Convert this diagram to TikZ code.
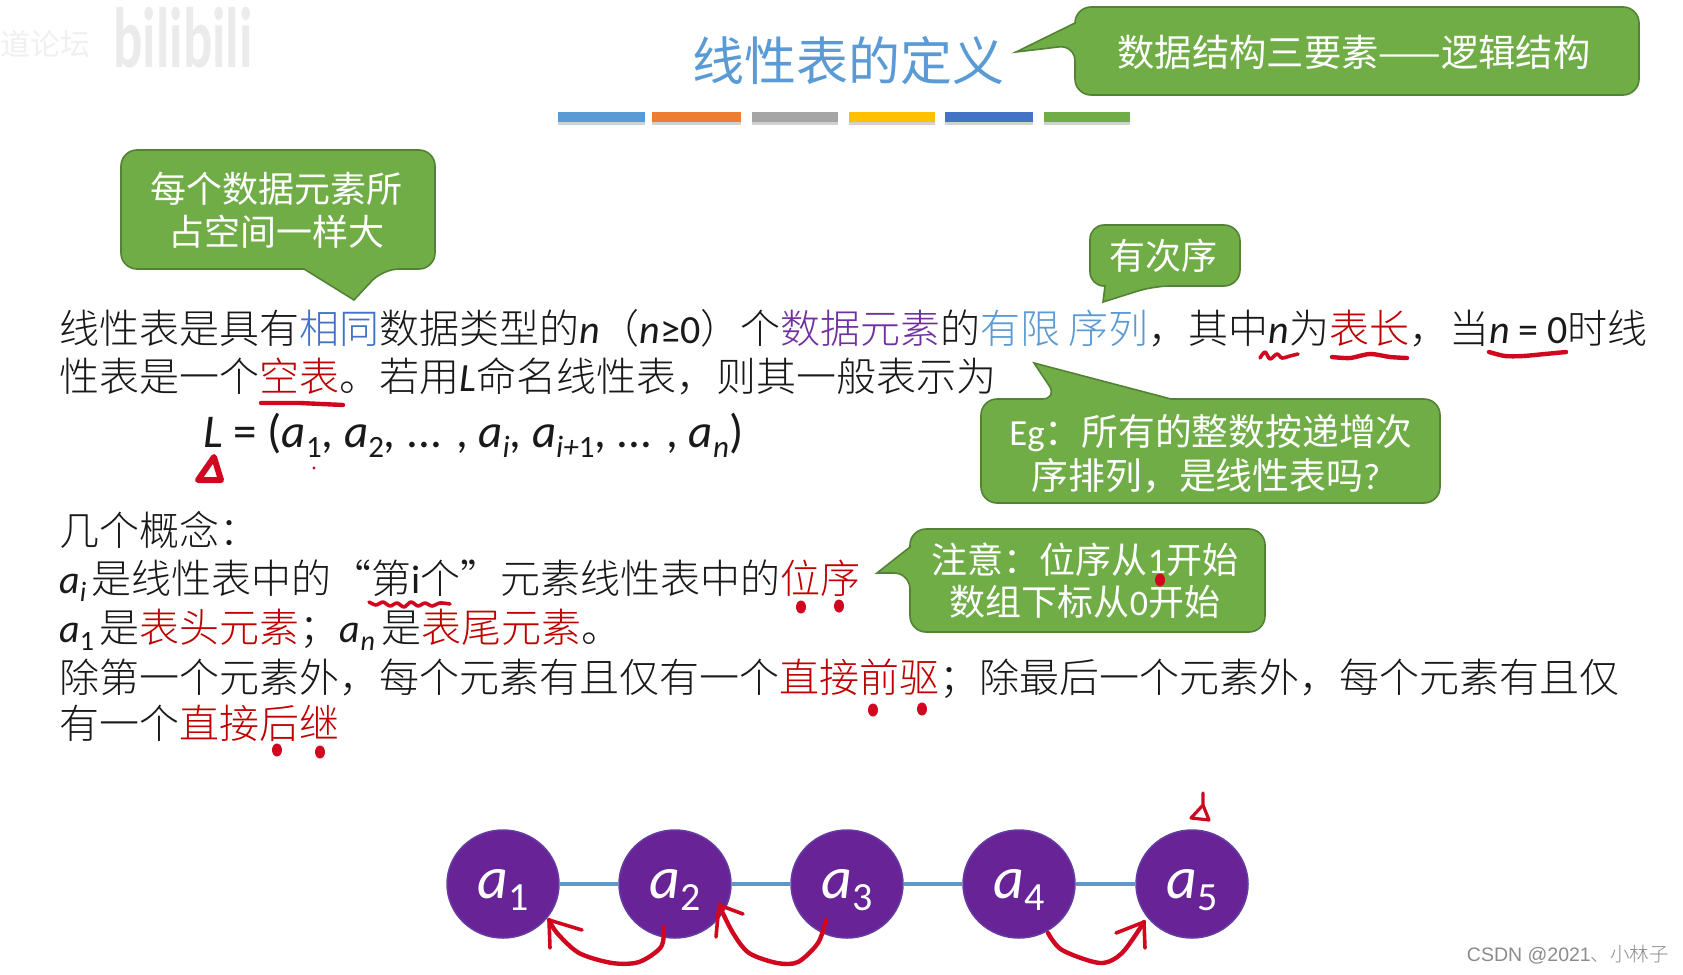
\documentclass[tikz,border=0pt]{standalone}
\usepackage{fontspec}
\usepackage{graphicx}
\setmainfont{Carlito}
\newfontfamily\cjk{Noto Sans CJK SC Light}
\newfontfamily\cjkr{Noto Sans CJK SC}
\newfontfamily\lib{Liberation Sans}
\usetikzlibrary{shapes.geometric}
\definecolor{gr}{HTML}{70AD47}
\definecolor{grd}{HTML}{548235}
\definecolor{redt}{HTML}{C00000}
\definecolor{ink}{HTML}{D0071E}
\definecolor{purp}{HTML}{7030A0}
\definecolor{circ}{HTML}{682496}
\definecolor{bl}{HTML}{4472C4}
\definecolor{lb}{HTML}{5B9BD5}
\newcommand\C[1]{{\cjk #1}}
\newcommand\fs[1]{\fontsize{#1}{#1}\selectfont}
\newcommand\lo[2]{\raisebox{-.22em}{\fs{#1}#2}}
\newcommand\loi[2]{\raisebox{-.22em}{\fs{#1}\itshape #2}}
\tikzset{
 x=1pt,y=-1pt,
 bub/.style={draw=grd,fill=gr,line width=1.6pt,rounded corners=16pt},
 btx/.style={text=white,inner sep=0,align=center,font=\fs{36}\cjkr},
 txt/.style={anchor=base west,inner sep=0,text=black!90,font=\fs{40}},
 ink1/.style={draw=ink,line width=4.4pt,line cap=round,line join=round},
 elem/.style={ellipse,draw=circ!80!lb,fill=circ,line width=1.5pt,minimum width=112pt,minimum height=108pt,inner sep=0,text=white,font=\fs{60}\itshape},
 link/.style={draw=lb!85!gray,line width=3.5pt},
}
\begin{document}
\begin{tikzpicture}
\useasboundingbox[fill=white] (0,0) rectangle (1683,974);
% watermark
\node[anchor=west,inner sep=0,text=black!6,font=\fs{30}\cjkr] (wm1) at (0,44) {道论坛};
\node[anchor=west,inner sep=0,text=black!8,font=\fs{66}\bfseries] (wm2) at (113,38) {\scalebox{.83}[1.3]{bilibili}};
% title
\node[inner sep=0,text=lb,font=\fs{52}\cjkr] (title) at (848,61) {线性表的定义};
% bars
\foreach \n/\a/\b/\c in {b1/558/645/5B9BD5,b2/652/741/ED7D31,b3/752/838/A5A5A5,b4/849/935/FFC000,b5/945/1033/4472C4,b6/1044/1130/70AD47}{
 \definecolor{tmp}{HTML}{\c}
 \fill[black!18] (\a,118) rectangle (\b,125);
 \fill[tmp] (\a,112) rectangle (\b,122);
}
% bubbles
\draw[bub] (1075,7) -- (1639,7) -- (1639,95) -- (1075,95) -- (1075,45) [sharp corners] -- (1016,52) -- (1075,23) [rounded corners=16pt] -- cycle;
\node[btx,font=\fs{37.3}\cjkr] (b1t) at (1354,52) {数据结构三要素——逻辑结构};
\draw[bub] (121,150) -- (435,150) -- (435,269) -- (383,269) [sharp corners] -- (354,300) -- (304,269) [rounded corners=16pt] -- (121,269) -- cycle;
\node[btx] (b2t) at (276,210) {每个数据元素所\\[7pt]占空间一样大};
\draw[bub] (1090,225) -- (1240,225) -- (1240,286) -- (1154,286) [sharp corners] -- (1103,302) -- (1105,286) [rounded corners=14pt] -- (1090,286) -- cycle;
\node[btx] (b3t) at (1163,256) {有次序};
\draw[bub] (981,399) -- (1058,399) [sharp corners] -- (1034,363) -- (1171,399) [rounded corners=16pt] -- (1440,399) -- (1440,503) -- (981,503) -- cycle;
\node[btx,font=\fs{36.8}\cjkr] (b4t) at (1211,454) {\textnormal{\fs{36.8}Eg}：所有的整数按递增次\\[6pt]序排列，是线性表吗\textnormal{\fs{36.8}?}\kern10pt};
\draw[bub] (910,529) -- (1265,529) -- (1265,632) -- (910,632) -- (910,573) [sharp corners] -- (877,573) -- (910,547) [rounded corners=16pt] -- cycle;
\node[btx] (b5t) at (1085,581) {注意：位序从\textnormal{\fs{36}1}开始\\[6pt]数组下标从\textnormal{\fs{36}0}开始};
% body
\node[txt] (l1) at (59,343) {\C{线性表是具有\textcolor{bl}{相同}数据类型的}\textit{n}\C{（}\textit{n}≥0\C{）个\textcolor{purp}{数据元素}的\textcolor{lb}{有限}}\kern8pt\C{\textcolor{lb}{序列}，其中}\textit{n}\C{为\textcolor{redt}{表长}，当}\textit{n} = 0\C{时线}};
\node[txt] (l2) at (59,391) {\C{性表是一个\textcolor{redt}{空表}。若用}\textit{L}\C{命名线性表，则其一般表示为}};
\node[txt,font=\fs{47}] (fm) at (203,447) {\textit{L} = (\textit{a}\lo{31}{1}, \textit{a}\lo{31}{2}, ... , \textit{a}\loi{31}{i}, \textit{a}\loi{31}{i+}\lo{31}{1}, ... , \textit{a}\loi{31}{n})};
\node[txt] (l3) at (59,545) {\C{几个概念：}};
\node[txt] (l4) at (59,593) {\textit{a}\loi{28}{i}\kern5pt\C{是线性表中的“第}i\C{个”元素线性表中的\textcolor{redt}{位序}}};
\node[txt] (l5) at (59,642) {\textit{a}\lo{28}{1}\kern6pt\C{是\textcolor{redt}{表头元素}；}\textit{a}\loi{28}{n}\,\C{是\textcolor{redt}{表尾元素}。}};
\node[txt] (l6) at (59,692) {\C{除第一个元素外，每个元素有且仅有一个\textcolor{redt}{直接前驱}；除最后一个元素外，每个元素有且仅}};
\node[txt] (l7) at (59,738) {\C{有一个\textcolor{redt}{直接后继}}};
% chain
\foreach \n/\x/\s in {e1/503/1,e2/675/2,e3/847/3,e4/1019/4,e5/1192/5}{
 \node[elem] (\n) at (\x,884) {\raisebox{-14pt}[0pt][0pt]{\textit{a}\raisebox{-.2em}{\fs{40}\upshape\s}}};
}
\draw[link] (e1) -- (e2); \draw[link] (e2) -- (e3); \draw[link] (e3) -- (e4); \draw[link] (e4) -- (e5);
% red ink
\draw[ink1] plot[smooth] coordinates {(664,927)(661,947)(639,962)(612,963)(579,953)(557,933)(549,920)};
\draw[ink1,line width=3.6pt] (550,948)--(549,920)--(582,930);
\draw[ink1] plot[smooth] coordinates {(826,920)(818,943)(798,962)(777,963)(749,953)(733,933)(719,905)};
\draw[ink1,line width=3.6pt] (716,937)--(719,905)--(743,914);
\draw[ink1] plot[smooth] coordinates {(1048,933)(1062,950)(1100,963)(1122,953)(1144,922)};
\draw[ink1,line width=3.6pt] (1116,933)--(1144,922)--(1145,948);
\draw[ink1,line width=3.2pt] (1203,793)--(1203,805)--(1191,818)--(1209,820)--(1203,805);
\draw[ink1,line width=6pt] (214,457)--(198,480)--(221,480)--cycle;
\fill[ink] (314,468) circle (1.6);
\draw[ink1] (261,403)--(300,403)--(343,405);
\draw[ink1,line width=3.6pt] plot[smooth] coordinates {(369,602)(376,605)(383,602)(390,606)(397,603)(404,607)(411,602)(418,606)(425,603)(432,606)(440,603)(450,604)};
\draw[ink1,line width=3.6pt] plot[smooth] coordinates {(1260,358)(1265,352)(1270,359)(1277,354)(1282,358)(1290,356)(1298,354)};
\draw[ink1] plot[smooth] coordinates {(1332,357)(1350,358)(1370,354)(1390,357)(1407,358)};
\draw[ink1] plot[smooth] coordinates {(1489,352)(1505,356)(1523,356)(1545,354)(1566,352)};
\foreach \x/\y in {801/607,839/606,873/710,922/709,277/750,320/752,1160/580}{
 \fill[ink] (\x,\y) ellipse (5 and 6.5);
}
% credit
\node[anchor=east,inner sep=0,text=black!45,font=\fs{19.5}\lib] (csdn) at (1669,955) {CSDN @2021\C{、小林子}};
\end{tikzpicture}
\end{document}
